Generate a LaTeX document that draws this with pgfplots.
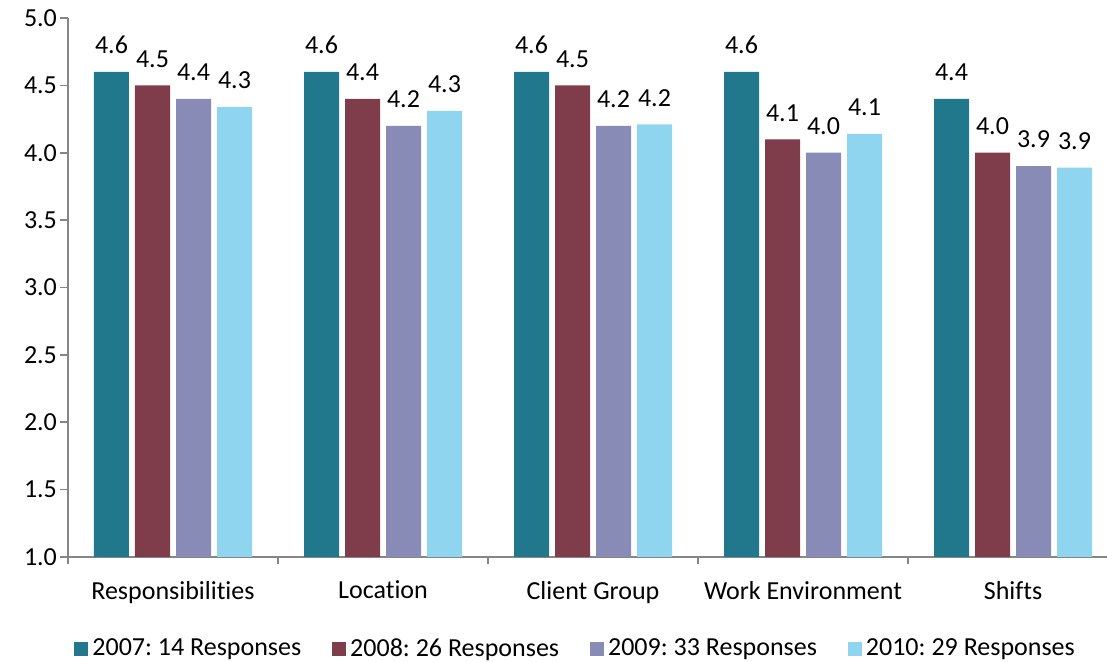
\documentclass[border=0pt]{standalone}
\usepackage{fontspec}
\setmainfont{Carlito}[Ligatures=NoCommon]
\usepackage{pgfplots}
\pgfplotsset{compat=1.18}
\definecolor{c07}{RGB}{33,120,140}
\definecolor{c08}{RGB}{127,60,74}
\definecolor{c09}{RGB}{135,139,181}
\definecolor{c10}{RGB}{143,213,240}
\definecolor{axgray}{RGB}{134,134,134}
\frenchspacing
\begin{document}
\begin{tikzpicture}[font=\fontsize{13}{15.6}\selectfont]
\useasboundingbox (-34pt,-52.5pt) rectangle (519.5pt,278.5pt);
\begin{axis}[
  at={(0,0)}, anchor=south west,
  scale only axis, width=519.5pt, height=269.5pt,
  xmin=-0.5, xmax=4.4476, ymin=1, ymax=5,
  ybar=3pt, bar width=17.5pt,
  axis x line*=bottom, axis y line*=left,
  axis line style={draw=axgray, line width=0.8pt},
  every tick/.style={draw=axgray, line width=0.8pt},
  tick align=outside,
  /pgf/number format/assume math mode=true,
  ytick={1,1.5,...,5},
  yticklabel style={/pgf/number format/.cd, fixed, fixed zerofill, precision=1, /tikz/.cd, xshift=2pt},
  major tick length=4pt,
  xtick={0,1,2,3,4},
  xticklabels={Responsibilities, Location, Client Group, Work Environment, Shifts},
  x tick style={draw=none},
  minor xtick={-0.5,0.5,1.5,2.5,3.5},
  minor x tick style={draw=axgray, line width=0.8pt},
  minor tick length=3.5pt,
  xticklabel style={yshift=-4.5pt},
  tick label style={font=\fontsize{13}{15.6}\selectfont},
  nodes near coords={\pgfmathprintnumber[fixed,fixed zerofill,precision=1,assume math mode=true]{\pgfplotspointmeta}},
  nodes near coords style={font=\fontsize{13}{15.6}\selectfont, text=black, yshift=5.5pt},
  point meta=y,
  legend columns=4,
  legend style={draw=none, at={(0.4895,-0.17)}, anchor=center, font=\fontsize{13}{15.6}\selectfont,
    /tikz/every even column/.append style={column sep=13.5pt}},
  legend image code/.code={\fill[#1] (-1pt,-3.5pt) rectangle (6pt,3.5pt);},
]
\addplot[fill=c07, draw=none] coordinates {(0,4.6) (1,4.6) (2,4.6) (3,4.6) (4,4.4)};
\addplot[fill=c08, draw=none] coordinates {(0,4.5) (1,4.4) (2,4.5) (3,4.1) (4,4.0)};
\addplot[fill=c09, draw=none] coordinates {(0,4.4) (1,4.2) (2,4.2) (3,4.0) (4,3.9)};
\addplot[fill=c10, draw=none] coordinates {(0,4.34) (1,4.31) (2,4.21) (3,4.14) (4,3.89)};
\legend{2007: 14 Responses, 2008: 26 Responses, 2009: 33 Responses, 2010: 29 Responses}
\end{axis}
\end{tikzpicture}
\end{document}
